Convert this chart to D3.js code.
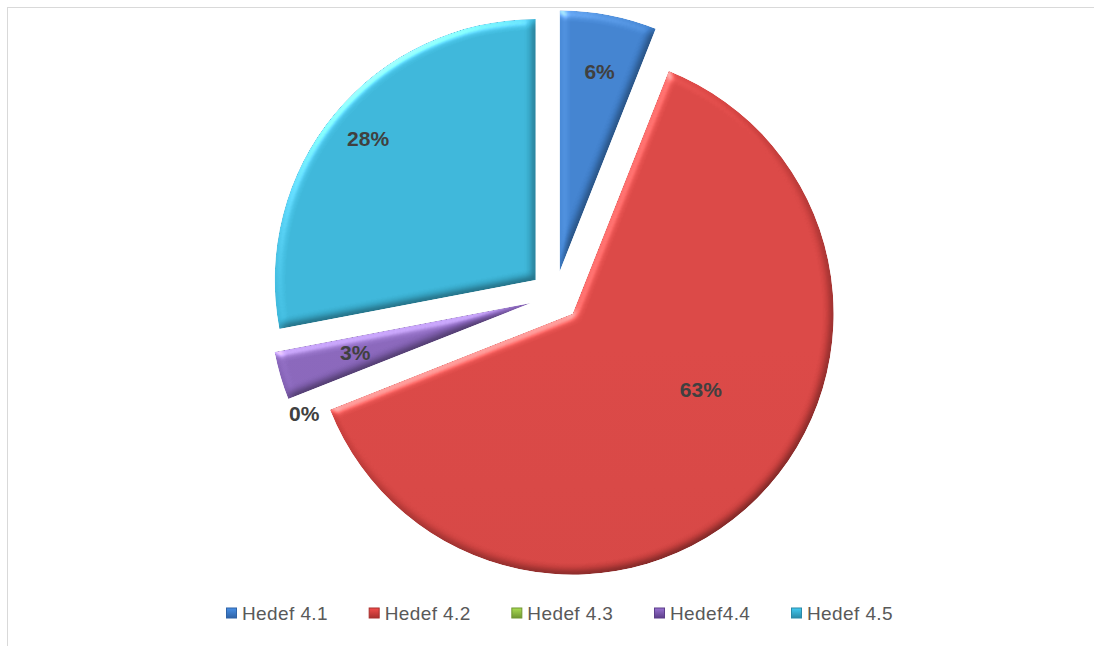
<!DOCTYPE html>
<html>
<head>
<meta charset="utf-8">
<script src="https://cdn.jsdelivr.net/npm/d3@7"></script>
<style>
  html, body { margin: 0; padding: 0; background: #ffffff; }
  svg { display: block; }
</style>
</head>
<body>
<svg id="chart" width="1094" height="646"></svg>
<script>
// ---- data ----
const categories = ["Hedef 4.1", "Hedef 4.2", "Hedef 4.3", "Hedef4.4", "Hedef 4.5"];
const values = [6, 63, 0, 3, 28];
const labels = ["6%", "63%", "0%", "3%", "28%"];

// ---- style ----
const colors = ["#3e7dc8", "#d34341", "#93c047", "#8462b5", "#39b0d2"];
const darkColors = ["#2f63a6", "#a8302e", "#6f9631", "#5d3f8a", "#2a8aa8"];
const labelFrac = [0.78, 0.57, 0.965, 0.70, 0.84];
const labelAngleShift = [0.5, -14.5, -3.8, 0.4, 0.5]; // degrees

const W = 1094, H = 646;
const cx = 555, cy = 296, R = 261, explode = 25;

const svg = d3.select("#chart");
const defs = svg.append("defs");

// bevel filter
const f = defs.append("filter").attr("id", "bevel")
  .attr("color-interpolation-filters", "sRGB")
  .attr("x", "-10%").attr("y", "-10%").attr("width", "120%").attr("height", "120%");
f.append("feGaussianBlur").attr("in", "SourceAlpha").attr("stdDeviation", 4).attr("result", "blur");
const diff = f.append("feDiffuseLighting").attr("in", "blur").attr("surfaceScale", 2.6)
  .attr("diffuseConstant", 1.16).attr("lighting-color", "#ffffff").attr("result", "diff");
diff.append("feDistantLight").attr("azimuth", 235).attr("elevation", 58);
f.append("feComposite").attr("in", "diff").attr("in2", "SourceAlpha").attr("operator", "in").attr("result", "diffIn");
const spec = f.append("feSpecularLighting").attr("in", "blur").attr("surfaceScale", 3)
  .attr("specularConstant", 0.4).attr("specularExponent", 24).attr("lighting-color", "#ffffff").attr("result", "spec");
spec.append("feDistantLight").attr("azimuth", 235).attr("elevation", 35);
f.append("feComposite").attr("in", "spec").attr("in2", "SourceAlpha").attr("operator", "in").attr("result", "specIn");
f.append("feComposite").attr("in", "SourceGraphic").attr("in2", "diffIn").attr("operator", "arithmetic")
  .attr("k1", 1).attr("k2", 0).attr("k3", 0).attr("k4", 0).attr("result", "lit");
f.append("feComposite").attr("in", "lit").attr("in2", "specIn").attr("operator", "arithmetic")
  .attr("k1", 0).attr("k2", 1).attr("k3", 1).attr("k4", 0);

// gradients per slice
colors.forEach((c, i) => {
  const g = defs.append("linearGradient").attr("id", "grad" + i)
    .attr("gradientUnits", "userSpaceOnUse")
    .attr("x1", 0).attr("y1", cy - R).attr("x2", 0).attr("y2", cy + R + explode);
  g.append("stop").attr("offset", "0%").attr("stop-color", d3.color(c).brighter(0.08));
  g.append("stop").attr("offset", "50%").attr("stop-color", c);
  g.append("stop").attr("offset", "100%").attr("stop-color", d3.interpolateRgb(c, darkColors[i])(0.75));
});

// frame
svg.append("rect").attr("x", 7.5).attr("y", 7.5).attr("width", W + 20).attr("height", H + 20)
  .attr("fill", "#ffffff").attr("stroke", "#d9d9d9").attr("stroke-width", 1);

// pie
const pie = d3.pie().sort(null).value(d => d)(values);
const arc = d3.arc().innerRadius(0).outerRadius(R);

const slices = svg.append("g").attr("transform", `translate(${cx},${cy})`);
pie.forEach((p, i) => {
  const mid = (p.startAngle + p.endAngle) / 2;
  const dx = explode * Math.sin(mid), dy = -explode * Math.cos(mid);
  const g = slices.append("g").attr("transform", `translate(${dx},${dy})`);
  if (p.endAngle > p.startAngle) {
    g.append("path").attr("d", arc(p))
      .attr("fill", `url(#grad${i})`)
      .attr("filter", "url(#bevel)");
  }
});

// labels
const labelG = svg.append("g").attr("transform", `translate(${cx},${cy})`);
pie.forEach((p, i) => {
  const mid = (p.startAngle + p.endAngle) / 2;
  const ox = explode * Math.sin(mid), oy = -explode * Math.cos(mid);
  const a = mid + labelAngleShift[i] * Math.PI / 180;
  const r = R * labelFrac[i];
  labelG.append("text")
    .attr("x", ox + r * Math.sin(a))
    .attr("y", oy - r * Math.cos(a))
    .attr("text-anchor", "middle")
    .attr("dominant-baseline", "central")
    .attr("font-family", "'Liberation Sans', Arial, sans-serif")
    .attr("font-weight", "bold")
    .attr("font-size", 21)
    .attr("fill", "#404040")
    .text(labels[i]);
});

// legend
const legend = svg.append("g");
const legendY = 613, markerSize = 11, markerGap = 5;
const legendLeft = 226, legendRight = 893;
const items = categories.map((c, i) => {
  const g = legend.append("g");
  const t = g.append("text")
    .attr("y", legendY)
    .attr("dominant-baseline", "central")
    .attr("font-family", "'Liberation Sans', Arial, sans-serif")
    .attr("font-size", 19)
    .attr("letter-spacing", 0.4)
    .attr("fill", "#595959")
    .text(c);
  return { g, t, w: t.node().getComputedTextLength() };
});
const totalItems = d3.sum(items, d => d.w + markerSize + markerGap);
const gap = (legendRight - legendLeft - totalItems) / (items.length - 1);
let x = legendLeft;
items.forEach((it, i) => {
  const mg = defs.append("linearGradient").attr("id", "lg" + i)
    .attr("x1", 0).attr("y1", 0).attr("x2", 0).attr("y2", 1);
  mg.append("stop").attr("offset", "0%").attr("stop-color", d3.color(colors[i]).brighter(0.4));
  mg.append("stop").attr("offset", "100%").attr("stop-color", darkColors[i]);
  it.g.insert("rect", "text")
    .attr("x", x + 0.5).attr("y", legendY - markerSize / 2 + 0.5)
    .attr("width", markerSize - 1).attr("height", markerSize - 1)
    .attr("fill", `url(#lg${i})`)
    .attr("stroke", darkColors[i]).attr("stroke-width", 1);
  it.t.attr("x", x + markerSize + markerGap);
  x += markerSize + markerGap + it.w + gap;
});
</script>
</body>
</html>
